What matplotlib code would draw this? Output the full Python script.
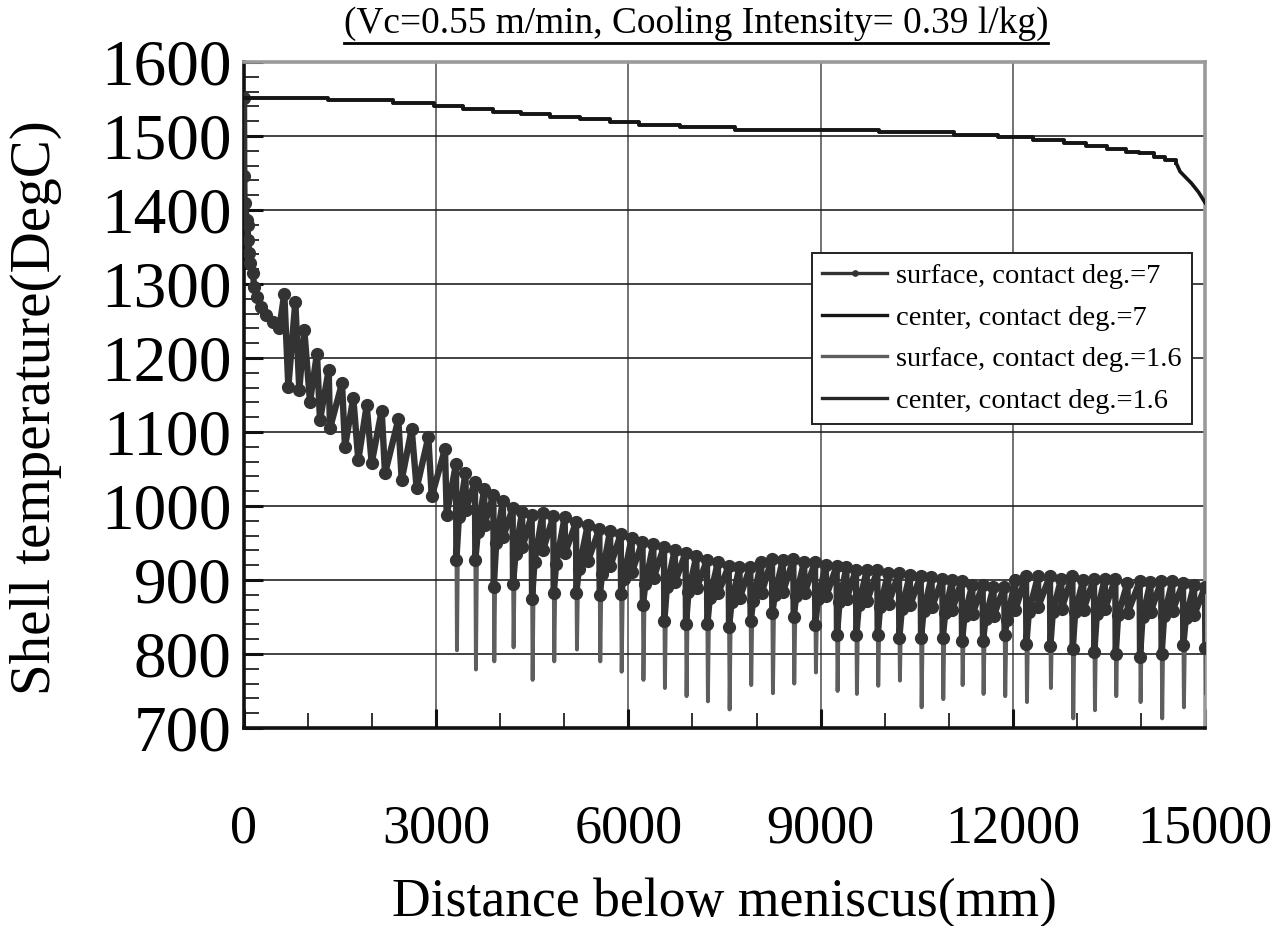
import matplotlib
matplotlib.use('Agg')
import matplotlib.pyplot as plt
from matplotlib.lines import Line2D
from matplotlib.ticker import MultipleLocator

# ── values ──────────────────────────────────────────────────────────────────

# mould zone, surface (both contact degrees overlap here)
MOLD_X = [0, 4, 8, 47, 58, 62, 83, 98, 136, 161, 198, 265, 343, 448, 551]
MOLD_T = [1552, 1446, 1409, 1386, 1380, 1359, 1342, 1328, 1315, 1296, 1283,
          1269, 1258, 1249, 1240]

# first part of secondary cooling: peak / low pairs
EARLY_X = [629, 692, 801, 863, 941, 1030, 1139, 1186, 1322, 1342, 1530, 1576,
           1706, 1784, 1915, 1993, 2149, 2201, 2409, 2461, 2617, 2695, 2877,
           2930, 3137, 3164]
EARLY_T = [1287, 1161, 1276, 1157, 1238, 1141, 1206, 1116, 1184, 1105, 1166,
           1080, 1146, 1062, 1136, 1058, 1129, 1044, 1117, 1035, 1104, 1024,
           1093, 1013, 1077, 988]

# roll contacts further down
ROLL_X = [3309, 3605, 3892, 4193, 4490, 4828, 5182, 5546, 5880, 6220, 6555,
          6893, 7226, 7565, 7902, 8241, 8574, 8912, 9250, 9552, 9885, 10223,
          10562, 10900, 11202, 11529, 11867, 12206, 12580, 12929, 13267, 13600,
          13980, 14317, 14656, 15000]
ROLL_PEAK = [1057, 1033, 1015, 997, 988, 986, 978, 969, 962, 952, 945, 937,
             927, 919, 918, 929, 928, 924, 919, 914, 913, 910, 906, 902, 899,
             893, 891, 906, 906, 906, 902, 902, 898, 899, 896, 891]
ROLL_DIP_7 = [927, 927, 891, 895, 875, 883, 883, 880, 881, 866, 844, 840, 840,
              836, 844, 856, 850, 839, 826, 826, 826, 822, 822, 822, 818, 818,
              826, 814, 811, 807, 803, 800, 796, 800, 812, 808]
ROLL_DIP_16 = [805, 779, 790, 809, 765, 790, 806, 790, 776, 765, 754, 743,
               736, 725, 758, 747, 760, 775, 750, 746, 757, 764, 728, 739,
               758, 746, 743, 735, 754, 713, 724, 743, 735, 713, 728, 747]
LOW_A = [985, 965, 950, 935, 925, 922, 915, 908, 902, 895, 890, 884, 876, 870,
         872, 880, 878, 874, 870, 866, 864, 861, 858, 855, 852, 847, 846, 857,
         857, 857, 854, 853, 850, 851, 849]

# intermediate peaks between the rolls
MID_X = [3457, 3748, 4040, 4340, 4660, 5005, 5364, 5713, 6050, 6388, 6724,
         7060, 7396, 7733, 8072, 8408, 8743, 9081, 9401, 9719, 10054, 10392,
         10731, 11051, 11366, 11698, 12036, 12393, 12755, 13098, 13434, 13790,
         14148, 14487, 14828]
MID_PEAK = [1045, 1023, 1007, 992, 990, 985, 974, 966, 957, 948, 941, 932,
            924, 917, 925, 927, 925, 920, 917, 913, 910, 907, 904, 900, 893,
            891, 900, 905, 902, 900, 902, 896, 897, 898, 893]
LOW_B = [995, 975, 958, 944, 940, 936, 926, 919, 911, 903, 897, 889, 882, 876,
         882, 884, 882, 878, 875, 871, 868, 866, 863, 860, 854, 852, 860, 864,
         861, 860, 861, 856, 857, 858, 853]

# centre temperature (staircase, then a short curve at the end)
CENTER_X = [0, 1311, 2325, 2965, 3420, 3890, 4320, 4775, 5245, 5710, 6170,
            6806, 7659, 9917, 11090, 11765, 12322, 12792, 13142, 13467, 13760,
            13966, 14200, 14375, 14553]
CENTER_T = [1552, 1548, 1545, 1540, 1537, 1533, 1530, 1526, 1523, 1519, 1515,
            1512, 1508, 1505, 1502, 1498, 1494, 1490, 1486, 1482, 1479, 1477,
            1472, 1468, 1463]
TAIL_X = [14553, 14610, 14700, 14790, 14900, 15000]
TAIL_T = [1463, 1452, 1444, 1436, 1424, 1410]

TITLE = '(Vc=0.55 m/min, Cooling Intensity= 0.39 l/kg)'
LABELS = ['surface, contact deg.=7', 'center, contact deg.=7',
          'surface, contact deg.=1.6', 'center, contact deg.=1.6']

SERIF = ['Liberation Serif', 'DejaVu Serif']


def surface_path(dips, dip_off, rec_off):
    xs = MOLD_X + EARLY_X
    ys = MOLD_T + EARLY_T
    for i, r in enumerate(ROLL_X):
        xs = xs + [r, r + dip_off]
        ys = ys + [ROLL_PEAK[i], dips[i]]
        if i < len(MID_X):
            xs = xs + [r + rec_off, MID_X[i], MID_X[i] + 6]
            ys = ys + [LOW_A[i], MID_PEAK[i], LOW_B[i]]
    return xs, ys


plt.rcParams['font.family'] = SERIF

fig = plt.figure(figsize=(12.75, 9.26), dpi=100)
ax = fig.add_axes([244 / 1275, 1 - 728 / 926, 961 / 1275, 666 / 926])

x7, y7 = surface_path(ROLL_DIP_7, 6, 45)
x16, y16 = surface_path(ROLL_DIP_16, 15, 35)

l1, = ax.plot(x7, y7, color='#333333', lw=4.6, marker='o', ms=8.5,
              mec='#333333', mfc='#333333', zorder=4)
l2, = ax.plot(CENTER_X, CENTER_T, color='#151515', lw=2.6,
              drawstyle='steps-post', zorder=5)
ax.plot(TAIL_X, TAIL_T, color='#151515', lw=2.6, zorder=5)
l3, = ax.plot(x16, y16, color='#5e5e5e', lw=2.8, zorder=3)
l4, = ax.plot(CENTER_X, CENTER_T, color='#252525', lw=2.6,
              drawstyle='steps-post', zorder=4)

ax.set_xlim(0, 15000)
ax.set_ylim(700, 1600)
ax.xaxis.set_major_locator(MultipleLocator(3000))
ax.xaxis.set_minor_locator(MultipleLocator(1000))
ax.yaxis.set_major_locator(MultipleLocator(100))
ax.yaxis.set_minor_locator(MultipleLocator(20))

ax.xaxis.grid(True, which='major', color='#5a5a5a', lw=1.2)
ax.yaxis.grid(True, which='major', color='#222222', lw=1.2)
ax.set_axisbelow(True)

ax.tick_params(which='major', direction='in', length=14, width=2.2,
               color='#111111', top=False, right=False)
ax.tick_params(which='minor', direction='in', length=11, width=1.3,
               color='#222222', top=False, right=False)
ax.tick_params(axis='y', which='major', pad=9, labelsize=47)
ax.tick_params(axis='x', which='major', pad=55, labelsize=39)

for side in ['left', 'bottom']:
    ax.spines[side].set_color('#111111')
    ax.spines[side].set_linewidth(2.6)
for side in ['top', 'right']:
    ax.spines[side].set_color('#9a9a9a')
    ax.spines[side].set_linewidth(2.6)

ax.set_xlabel('Distance below meniscus(mm)', fontsize=38.6)
ax.xaxis.set_label_coords(0.5, -0.225)
ax.set_ylabel('Shell temperature(DegC)', fontsize=41)
ax.yaxis.set_label_coords(-0.189, 0.481)

leg = ax.legend([l1, l2, l3, l4], LABELS, loc='upper left',
                bbox_to_anchor=(0.591, 0.713), fontsize=20.5, frameon=True,
                fancybox=False, edgecolor='#222222', framealpha=1,
                borderpad=0.35, labelspacing=0.55, handlelength=2.3,
                handletextpad=0.3, markerscale=0.45, borderaxespad=0)
leg.get_frame().set_linewidth(1.4)
leg.set_zorder(10)
for h in leg.legend_handles:
    h.set_linewidth(2.4)

t = fig.text(696 / 1275, 1 - 24 / 926, TITLE, ha='center', va='center',
             fontsize=26.9)
fig.canvas.draw()
bb = t.get_window_extent()
fig.add_artist(Line2D([bb.x0 / 1275, bb.x1 / 1275],
                      [(bb.y0 - 2) / 926, (bb.y0 - 2) / 926],
                      color='black', lw=2))

fig.savefig('out.png', dpi=100)
